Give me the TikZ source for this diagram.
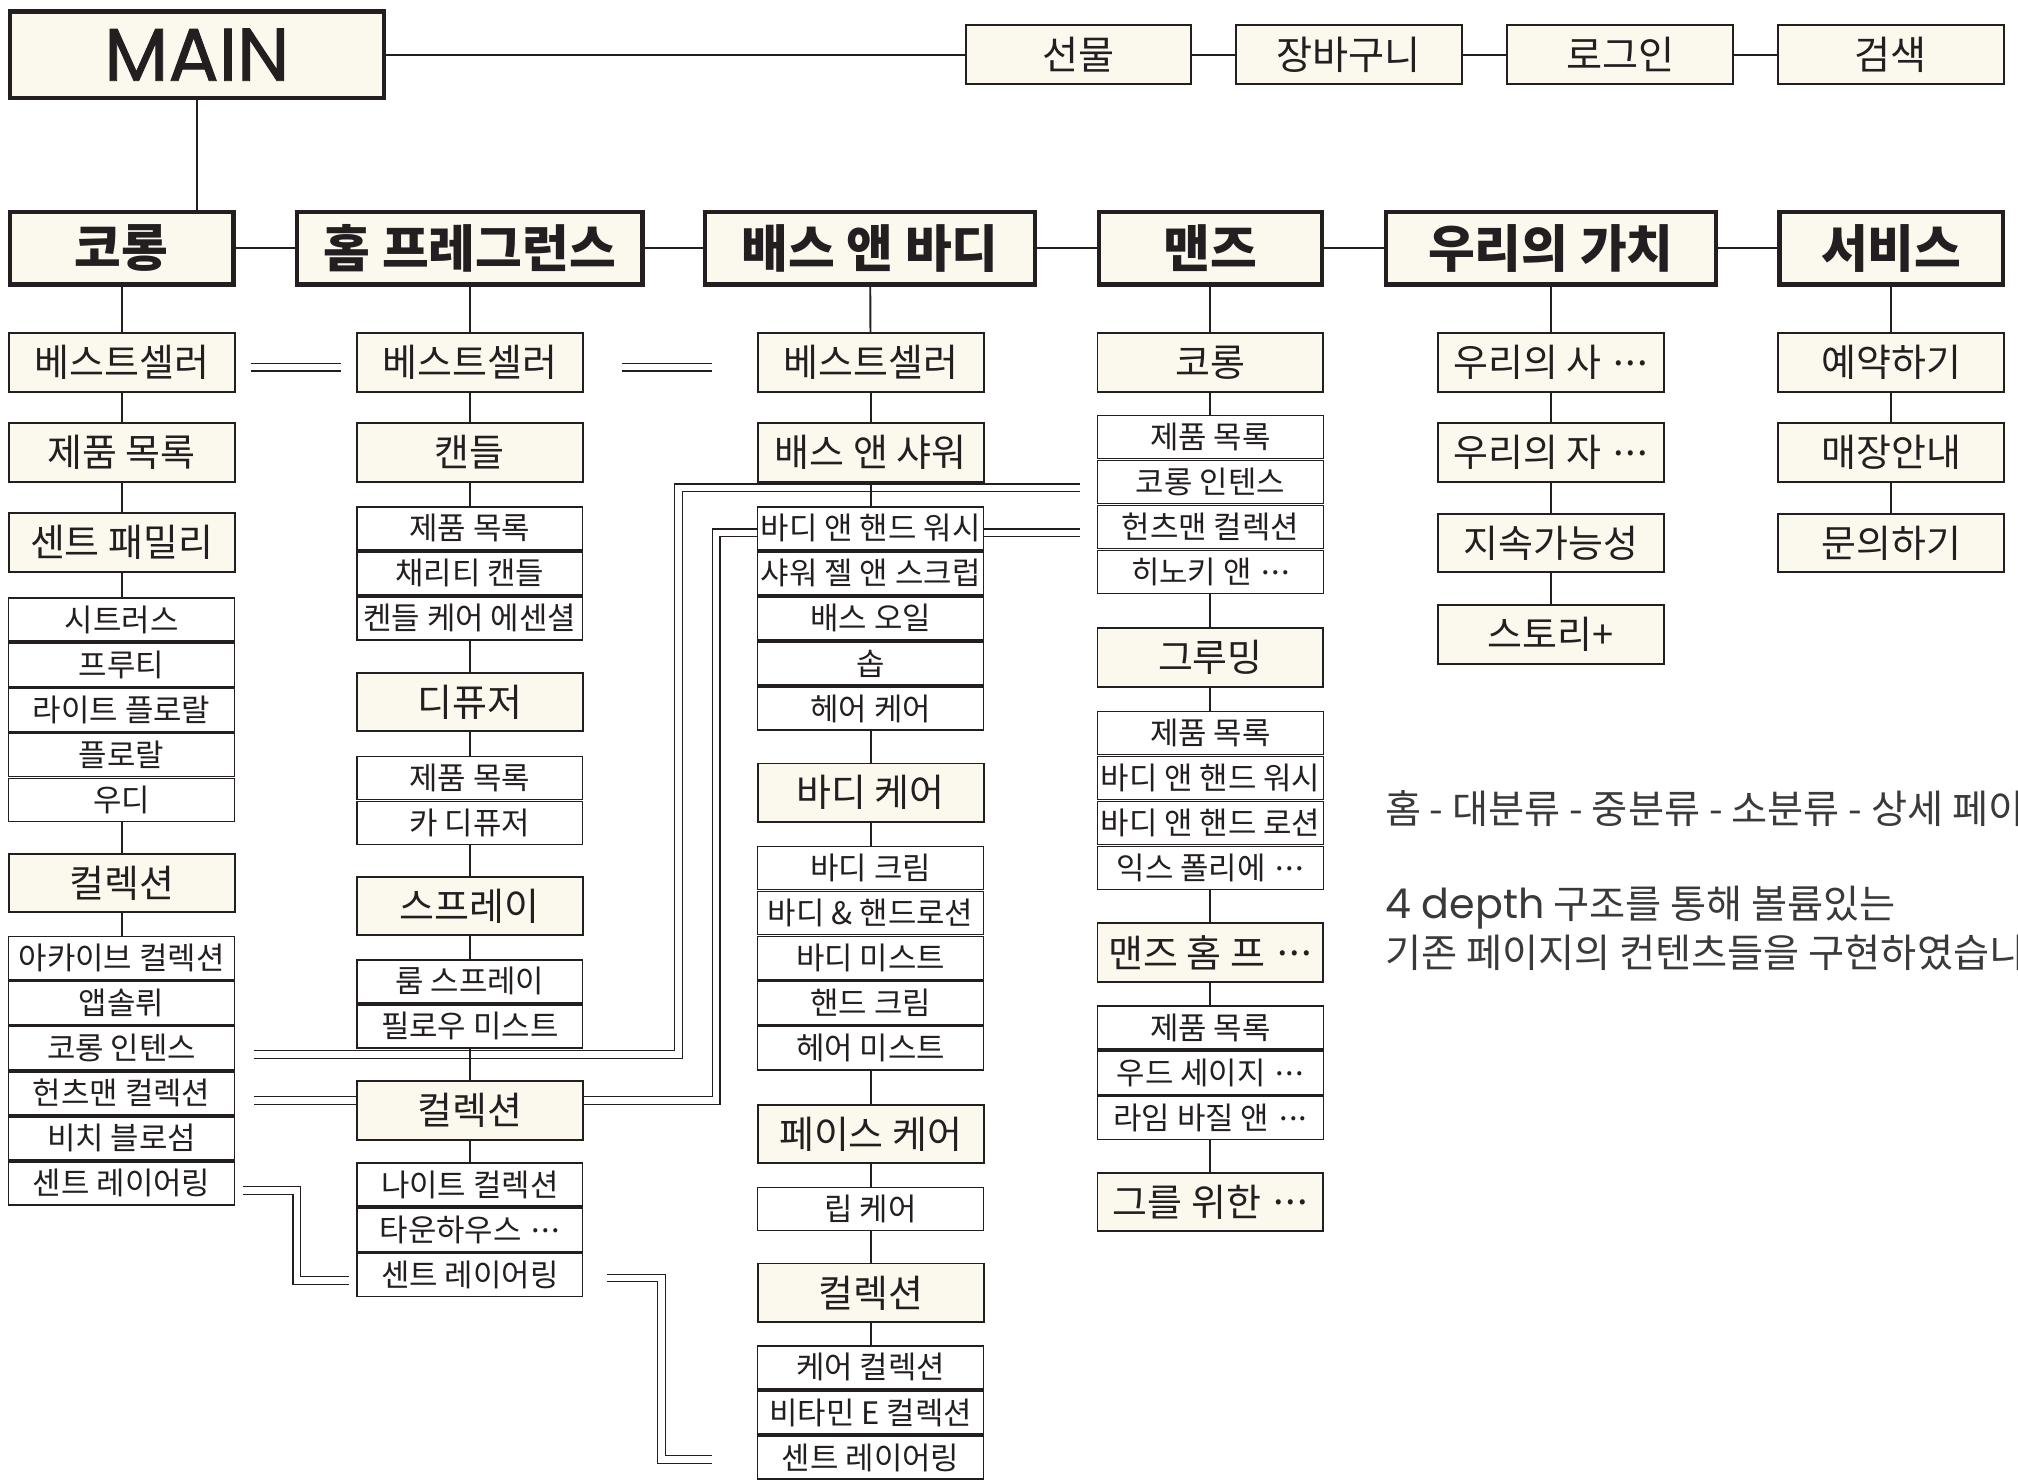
\documentclass[tikz,border=0pt]{standalone}
\usepackage{fontspec}
\setmainfont{Noto Sans CJK KR}
\newfontfamily\pop{Poppins}
\newfontfamily\popm{Poppins}[FakeBold=1.2]
\definecolor{dk}{HTML}{231F20}
\definecolor{cream}{HTML}{FBF8EE}
\definecolor{notec}{HTML}{3A3A3A}
\newcommand\mdts{\hspace{0.1em}\raisebox{0.3em}{.\hspace{0.04em}.\hspace{0.04em}.}}
\pgfdeclarelayer{back}
\pgfdeclarelayer{bg}
\pgfsetlayers{back,bg,main}
\begin{document}
\begin{tikzpicture}[x=1pt,y=-1pt,
  mainbox/.style={draw=dk,line width=3.5pt,fill=cream,minimum width=290.5pt,minimum height=67.5pt,inner sep=0pt,font=\popm\fontsize{58}{62}\selectfont,text=dk},
  lone/.style={draw=dk,line width=3.5pt,fill=cream,minimum height=56.5pt,inner sep=0pt,font=\bfseries\fontsize{39.5}{42}\selectfont,text=dk},
  ltwo/.style={draw=dk,line width=1.5pt,fill=cream,minimum width=175.5pt,minimum height=45.5pt,inner sep=0pt,font=\fontsize{29.5}{31}\selectfont,text=dk},
  ltop/.style={ltwo,font=\fontsize{30.5}{32}\selectfont},
  li/.style={draw=dk,line width=1.2pt,fill=white,minimum width=175.5pt,minimum height=33.5pt,inner sep=0pt,font=\fontsize{24}{26}\selectfont,text=dk},
  conn/.style={draw=dk,line width=1.5pt},
  dbl/.style={draw=dk,line width=0.9pt,double=white,double distance=5pt},
  notetxt/.style={inner sep=0pt,font=\fontsize{30.5}{32}\selectfont,text=notec}]
\begin{pgfonlayer}{back}
\fill[white] (0,0) rectangle (1568,1150);
\end{pgfonlayer}
\useasboundingbox (0,0) rectangle (1568,1150);

% top
\node[mainbox] (main) at (153,42.5) {MAIN};
\node[ltop] (gift) at (838,42.5) {선물};
\node[ltop] (cart) at (1048,42.5) {장바구니};
\node[ltop] (login) at (1259,42.5) {로그인};
\node[ltop] (search) at (1469,42.5) {검색};

% level 1
\node[lone,minimum width=173.5pt] (k0) at (94.5,193) {코롱};
\node[lone,minimum width=268.5pt] (h0) at (365,193) {홈 프레그런스};
\node[lone,minimum width=256.5pt] (b0) at (676,193) {배스 앤 바디};
\node[lone,minimum width=173.5pt] (m0) at (940.5,193) {맨즈};
\node[lone,minimum width=256.5pt] (v0) at (1205,193) {우리의 가치};
\node[lone,minimum width=173.5pt] (s0) at (1469.5,193) {서비스};

% column 1
\node[ltwo] (k1) at (94.5,281.5) {베스트셀러};
\node[ltwo] (k2) at (94.5,351.5) {제품 목록};
\node[ltwo] (k3) at (94.5,421.5) {센트 패밀리};
\foreach[count=\i] \t in {시트러스,프루티,라이트 플로랄,플로랄,우디}
  \node[li] (k3\i) at (94.5,{446.5+35*\i}) {\t};
\node[ltwo] (k4) at (94.5,686) {컬렉션};
\foreach[count=\i] \t in {아카이브 컬렉션,앱솔뤼,코롱 인텐스,헌츠맨 컬렉션,비치 블로섬,센트 레이어링}
  \node[li] (k4\i) at (94.5,{709.5+35*\i}) {\t};

% column 2
\node[ltwo] (h1) at (365,281.5) {베스트셀러};
\node[ltwo] (h2) at (365,351.5) {캔들};
\foreach[count=\i] \t in {제품 목록,채리티 캔들,켄들 케어 에센셜}
  \node[li] (h2\i) at (365,{375.5+35*\i}) {\t};
\node[ltwo] (h3) at (365,545.5) {디퓨저};
\foreach[count=\i] \t in {제품 목록,카 디퓨저}
  \node[li] (h3\i) at (365,{569.5+35*\i}) {\t};
\node[ltwo] (h4) at (365,704) {스프레이};
\foreach[count=\i] \t in {룸 스프레이,필로우 미스트}
  \node[li] (h4\i) at (365,{727.5+35*\i}) {\t};
\node[ltwo] (h5) at (365,863) {컬렉션};
\foreach[count=\i] \t in {나이트 컬렉션,타운하우스 \mdts,센트 레이어링}
  \node[li] (h5\i) at (365,{885.5+35*\i}) {\t};

% column 3
\node[ltwo] (b1) at (676.5,281.5) {베스트셀러};
\node[ltwo] (b2) at (676.5,351.5) {배스 앤 샤워};
\foreach[count=\i] \t in {바디 앤 핸드 워시,샤워 젤 앤 스크럽,배스 오일,솝,헤어 케어}
  \node[li] (b2\i) at (676.5,{375.5+35*\i}) {\t};
\node[ltwo] (b3) at (676.5,616) {바디 케어};
\foreach[count=\i] \t in {바디 크림,바디 \& 핸드로션,바디 미스트,핸드 크림,헤어 미스트}
  \node[li] (b3\i) at (676.5,{639.5+35*\i}) {\t};
\node[ltwo] (b4) at (676.5,881) {페이스 케어};
\node[li] (b41) at (676.5,939.5) {립 케어};
\node[ltwo] (b5) at (676.5,1004.5) {컬렉션};
\foreach[count=\i] \t in {케어 컬렉션,비타민 E 컬렉션,센트 레이어링}
  \node[li] (b5\i) at (676.5,{1027.5+35*\i}) {\t};

% column 4
\node[ltwo] (m1) at (940.5,281.5) {코롱};
\foreach[count=\i] \t in {제품 목록,코롱 인텐스,헌츠맨 컬렉션,히노키 앤 \mdts}
  \node[li] (m1\i) at (940.5,{304.5+35*\i}) {\t};
\node[ltwo] (m2) at (940.5,511) {그루밍};
\foreach[count=\i] \t in {제품 목록,바디 앤 핸드 워시,바디 앤 핸드 로션,익스 폴리에 \mdts}
  \node[li] (m2\i) at (940.5,{534.5+35*\i}) {\t};
\node[ltwo] (m3) at (940.5,740) {맨즈 홈 프 \mdts};
\foreach[count=\i] \t in {제품 목록,우드 세이지 \mdts,라임 바질 앤 \mdts}
  \node[li] (m3\i) at (940.5,{763.5+35*\i}) {\t};
\node[ltwo] (m4) at (940.5,934) {그를 위한 \mdts};

% column 5
\node[ltwo] (v1) at (1205,281.5) {우리의 사 \mdts};
\node[ltwo] (v2) at (1205,351.5) {우리의 자 \mdts};
\node[ltwo] (v3) at (1205,422) {지속가능성};
\node[ltwo] (v4) at (1205,493) {스토리+};

% column 6
\node[ltwo] (s1) at (1469.5,281.5) {예약하기};
\node[ltwo] (s2) at (1469.5,351.5) {매장안내};
\node[ltwo] (s3) at (1469.5,422) {문의하기};

% notes (cut off by the right edge, as in the reference)
\node[notetxt,anchor=base west] (n1) at (1076,639.5) {홈 - 대분류 - 중분류 - 소분류 - 상세 페이지};
\node[notetxt,anchor=base west] (n2) at (1076,713.5) {{\pop\fontsize{32}{32}\selectfont 4 depth} 구조를 통해 볼륨있는};
\node[notetxt,anchor=base west] (n3) at (1076,751.5) {기존 페이지의 컨텐츠들을 구현하였습니다};

% double connectors (cross references)
\coordinate (d1s) at (195,285.3); \coordinate (d1e) at (265,285.3);
\coordinate (d2s) at (483,285.3); \coordinate (d2e) at (553,285.3);
\coordinate (d3s) at (197,819.3); \coordinate (d3a) at (527.3,819.3);
\coordinate (d3b) at (527.3,379); \coordinate (d3e) at (839,379);
\coordinate (d4s) at (197,855);
\coordinate (d5a) at (556.5,855); \coordinate (d5b) at (556.5,414);
\coordinate (d6e) at (839,414);
\coordinate (d7s) at (189,925); \coordinate (d7a) at (230.6,925);
\coordinate (d7b) at (230.6,995); \coordinate (d7e) at (271,995);
\coordinate (d8s) at (472,993); \coordinate (d8a) at (514,993);
\coordinate (d8b) at (514,1134); \coordinate (d8e) at (553.5,1134);
\begin{pgfonlayer}{bg}
\draw[dbl] (d1s) -- (d1e);
\draw[dbl] (d2s) -- (d2e);
\draw[dbl] (d3s) -- (d3a) -- (d3b) -- (d3e);
\draw[dbl] (d4s) -- (d4s -| h5.west);
\draw[dbl] (h5.east |- d5a) -- (d5a) -- (d5b) -- (d5b -| b21.west);
\draw[dbl] (b21.east |- d6e) -- (d6e);
\draw[dbl] (d7s) -- (d7a) -- (d7b) -- (d7e);
\draw[dbl] (d8s) -- (d8a) -- (d8b) -- (d8e);
\end{pgfonlayer}

% single connectors
\foreach \a/\b in {main/gift,gift/cart,cart/login,login/search,
  k0/h0,h0/b0,b0/m0,m0/v0,v0/s0,
  k0/k1,k1/k2,k2/k3,k3/k31,k35/k4,k4/k41,
  h0/h1,h1/h2,h2/h21,h23/h3,h3/h31,h32/h4,h4/h41,h42/h5,h5/h51,
  b0/b1,b1/b2,b2/b21,b25/b3,b3/b31,b35/b4,b4/b41,b41/b5,b5/b51,
  m0/m1,m1/m11,m14/m2,m2/m21,m24/m3,m3/m31,m33/m4,
  v0/v1,v1/v2,v2/v3,v3/v4,
  s0/s1,s1/s2,s2/s3}
  \draw[conn] (\a) -- (\b);
\draw[conn] (main.south) -- (main.south |- k0.north);
\end{tikzpicture}
\end{document}
